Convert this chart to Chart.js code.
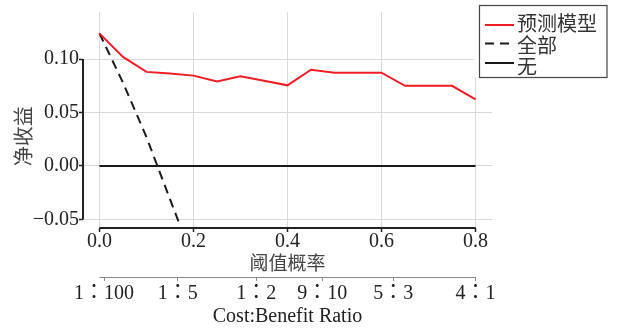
<!DOCTYPE html>
<html>
<head>
<meta charset="utf-8">
<script src="https://cdn.jsdelivr.net/npm/chart.js@4.4.1/dist/chart.umd.min.js"></script>
<style>
  html, body { margin: 0; padding: 0; background: #fff; }
  #wrap { width: 617px; height: 330px; }
</style>
</head>
<body>
<div id="wrap"><canvas id="dca" width="617" height="330"></canvas></div>
<script>
// Decision curve: net benefit against threshold probability
const thresholds = [0.00, 0.05, 0.10, 0.15, 0.20, 0.25, 0.30, 0.35, 0.40, 0.45, 0.50, 0.55, 0.60, 0.65, 0.70, 0.75, 0.80];
const modelNB    = [0.124, 0.102, 0.088, 0.0865, 0.0845, 0.079, 0.084, 0.0797, 0.0754, 0.090, 0.0872, 0.0872, 0.0872, 0.075, 0.075, 0.075, 0.0623];

const allThresholds = [0.00, 0.05, 0.10, 0.15, 0.17];
const allNB         = [0.124, 0.078, 0.027, -0.031, -0.054];

const noneThresholds = [0.00, 0.80];
const noneNB         = [0, 0];

const seriesNames  = ['预测模型', '全部', '无'];
const seriesColors = ['#ee1c25', '#1a1a1a', '#1a1a1a'];
const seriesDashes = [[], [9, 6], []];

const xTicks      = [0.0, 0.2, 0.4, 0.6, 0.8];
const xTickLabels = ['0.0', '0.2', '0.4', '0.6', '0.8'];
const yTicks      = [-0.05, 0.00, 0.05, 0.10];
const yTickLabels = ['−0.05', '0.00', '0.05', '0.10'];

// Cost:benefit ratio equivalents of the threshold probability
const ratioTicks      = [0.0099, 0.1667, 0.3333, 0.4737, 0.625, 0.80];
const ratioTickLabels = ['1：100', '1：5', '1：2', '9：10', '5：3', '4：1'];

const xTitle = '阈值概率';
const yTitle = '净收益';
const ratioTitle = 'Cost:Benefit Ratio';

const SERIF = "'Liberation Serif', 'Noto Sans CJK TC', serif";
const CJK = "'Noto Sans CJK SC', 'Liberation Serif', sans-serif";
const GRID = '#d9d9d9';
const INK = '#222';

const pts = (xs, ys) => xs.map((x, i) => ({ x: x, y: ys[i] }));
const fixedTicks = (vals) => (axis) => { axis.ticks = vals.map(v => ({ value: v })); };

// Axis lines that only span the labelled range, plus the y title and legend
const decor = {
  id: 'decor',
  afterDraw(chart) {
    const { ctx, chartArea, scales } = chart;
    const x = scales.x, y = scales.y, x2 = scales.x2;
    ctx.save();
    ctx.strokeStyle = INK;
    ctx.lineWidth = 2;
    ctx.setLineDash([]);
    ctx.beginPath();
    ctx.moveTo(chartArea.left, y.getPixelForValue(yTicks[yTicks.length - 1]));
    ctx.lineTo(chartArea.left, y.getPixelForValue(yTicks[0]));
    ctx.moveTo(x.getPixelForValue(xTicks[0]), chartArea.bottom);
    ctx.lineTo(x.getPixelForValue(xTicks[xTicks.length - 1]), chartArea.bottom);
    ctx.stroke();

    ctx.strokeStyle = '#888';
    ctx.lineWidth = 1;
    ctx.beginPath();
    ctx.moveTo(x2.getPixelForValue(xTicks[0]), x2.top + 0.5);
    ctx.lineTo(x2.getPixelForValue(xTicks[xTicks.length - 1]), x2.top + 0.5);
    ctx.stroke();

    // y title
    const yc = (y.getPixelForValue(yTicks[0]) + y.getPixelForValue(yTicks[yTicks.length - 1])) / 2 - 3;
    ctx.translate(23, yc);
    ctx.rotate(-Math.PI / 2);
    ctx.font = '20px ' + CJK;
    ctx.fillStyle = '#444';
    ctx.textAlign = 'center';
    ctx.textBaseline = 'middle';
    ctx.fillText(yTitle, 0, 0);
    ctx.setTransform(1, 0, 0, 1, 0, 0);

    // legend
    const box = { left: 479.5, top: 5.5, right: 607, bottom: 77.5 };
    ctx.fillStyle = '#fff';
    ctx.fillRect(474, box.top, box.right - 474, box.bottom - box.top);
    ctx.strokeStyle = '#444';
    ctx.lineWidth = 1.2;
    ctx.strokeRect(box.left, box.top, box.right - box.left, box.bottom - box.top);
    const lineY = [25, 43.5, 63];
    const textY = [23, 45, 66];
    ctx.font = '20px ' + CJK;
    ctx.textAlign = 'left';
    ctx.textBaseline = 'middle';
    seriesNames.forEach((name, i) => {
      ctx.strokeStyle = seriesColors[i];
      ctx.lineWidth = 2;
      ctx.setLineDash(seriesDashes[i]);
      ctx.beginPath();
      ctx.moveTo(485, lineY[i]);
      ctx.lineTo(514, lineY[i]);
      ctx.stroke();
      ctx.setLineDash([]);
      ctx.fillStyle = '#333';
      ctx.fillText(name, 517, textY[i]);
    });
    ctx.restore();
  }
};

new Chart(document.getElementById('dca'), {
  type: 'line',
  data: {
    datasets: [
      { label: seriesNames[0], data: pts(thresholds, modelNB), borderColor: seriesColors[0], borderWidth: 2, borderDash: seriesDashes[0] },
      { label: seriesNames[1], data: pts(allThresholds, allNB), borderColor: seriesColors[1], borderWidth: 2, borderDash: seriesDashes[1] },
      { label: seriesNames[2], data: pts(noneThresholds, noneNB), borderColor: seriesColors[2], borderWidth: 2, borderDash: seriesDashes[2] }
    ]
  },
  options: {
    responsive: false,
    animation: false,
    devicePixelRatio: 1,
    layout: { padding: { left: 0, top: 6, right: 125, bottom: 0 } },
    elements: { point: { radius: 0 }, line: { tension: 0, fill: false } },
    plugins: { legend: { display: false }, tooltip: { enabled: false } },
    scales: {
      x: {
        type: 'linear', position: 'bottom', weight: 0,
        min: -0.035, max: 0.835,
        afterBuildTicks: fixedTicks(xTicks),
        afterFit: (s) => { s.height = 49; },
        border: { display: false },
        grid: { color: GRID, lineWidth: 1, tickColor: INK, tickLength: 4, tickWidth: 1.5 },
        ticks: {
          callback: (v) => xTickLabels[xTicks.indexOf(v)],
          font: { family: SERIF, size: 20 }, color: INK, padding: -2,
          maxRotation: 0, autoSkip: false
        },
        title: { display: true, text: xTitle, font: { family: CJK, size: 19 }, color: '#444', padding: { top: 0, bottom: 3 } }
      },
      x2: {
        type: 'linear', position: 'bottom', weight: 1,
        min: -0.035, max: 0.835,
        afterBuildTicks: fixedTicks(ratioTicks),
        afterFit: (s) => { s.height = 53; },
        border: { display: false },
        grid: { drawOnChartArea: false, tickColor: '#888', tickLength: 4, tickWidth: 1 },
        ticks: {
          callback: (v) => ratioTickLabels[ratioTicks.indexOf(v)],
          font: { family: SERIF, size: 20 }, color: INK, padding: 1,
          maxRotation: 0, autoSkip: false
        },
        title: { display: true, text: ratioTitle, font: { family: SERIF, size: 20 }, color: INK, padding: { top: 0, bottom: 1 } }
      },
      y: {
        type: 'linear', position: 'left',
        min: -0.058, max: 0.144,
        afterBuildTicks: fixedTicks(yTicks),
        afterFit: (s) => { s.width = 83; },
        border: { display: false },
        grid: { color: GRID, lineWidth: 1, tickColor: INK, tickLength: 4, tickWidth: 1.5 },
        ticks: {
          callback: (v) => yTickLabels[yTicks.indexOf(v)],
          font: { family: SERIF, size: 20 }, color: INK, padding: 0
        },
        title: { display: false }
      }
    }
  },
  plugins: [decor]
});
</script>
</body>
</html>
